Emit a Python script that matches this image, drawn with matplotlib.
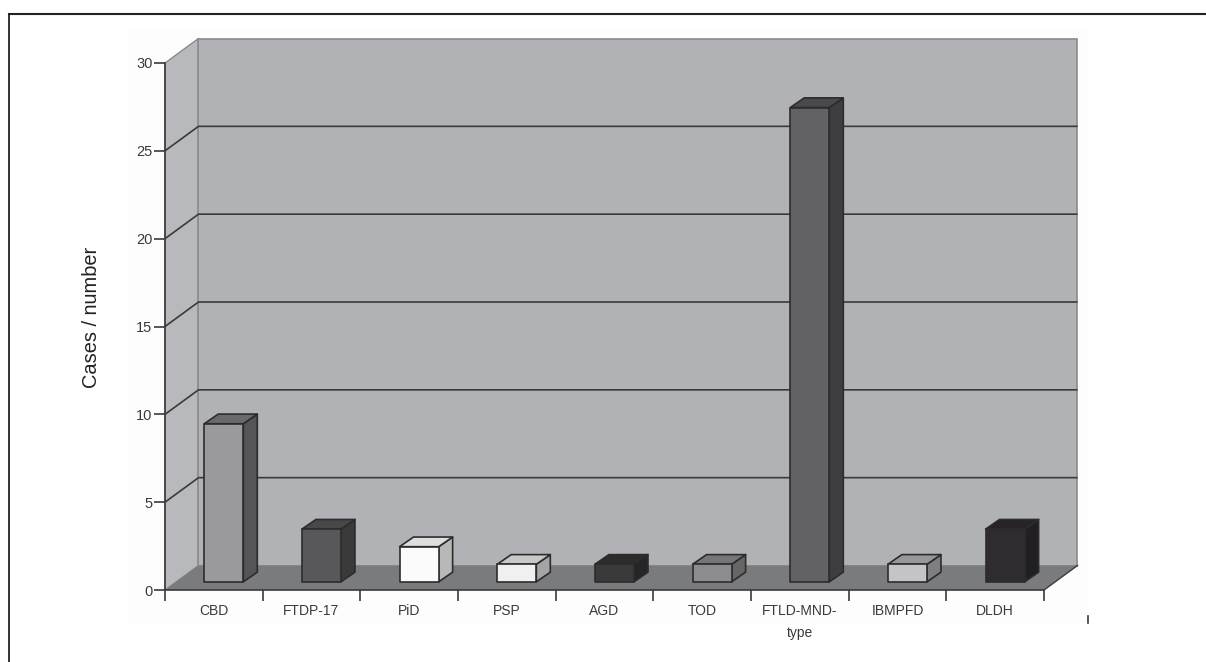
import matplotlib
matplotlib.use("Agg")
import matplotlib.pyplot as plt
from matplotlib.patches import Polygon, Rectangle
from matplotlib.lines import Line2D

categories = ["CBD", "FTDP-17", "PiD", "PSP", "AGD", "TOD", "FTLD-MND-\ntype", "IBMPFD", "DLDH"]
cases = [9, 3, 2, 1, 1, 1, 27, 1, 3]
front_colors = ["#9a9a9c", "#58585a", "#fbfbfb", "#f0f0f0", "#3a3a3a", "#8c8c8e", "#626264", "#c4c4c6", "#2e2c2e"]
side_colors = ["#555557", "#3a3a3a", "#b8b8b8", "#a4a4a4", "#262626", "#666666", "#3e3e40", "#7e7e80", "#211f21"]
top_colors = ["#6a6a6c", "#484848", "#dedede", "#c8c8c8", "#2c2c2c", "#767678", "#4a4a4c", "#98989a", "#262426"]
yticks = [0, 5, 10, 15, 20, 25, 30]

WIDTH, HEIGHT = 1206, 662
plt.rcParams["font.family"] = ["Liberation Sans", "DejaVu Sans"]

fig = plt.figure(figsize=(WIDTH / 100, HEIGHT / 100), dpi=100, facecolor="white")

# faint panel behind the chart
fig.add_artist(Rectangle((128 / WIDTH, 1 - 623 / HEIGHT), 960 / WIDTH, 595 / HEIGHT, transform=fig.transFigure, fc="#fdfdfd", ec="none", zorder=-1))

ax = fig.add_axes([165 / WIDTH, 1 - 590 / HEIGHT, 879 / WIDTH, 527 / HEIGHT])
ax.set_xlim(0, len(categories))
ax.set_ylim(0, 30)
ax.patch.set_visible(False)

# depth of the fake 3d box, in data units
dx = 33.5 / (879 / len(categories))
dy = 24.5 / (527 / 30)
n = len(categories)
ink = "#3a3a3c"
edge = "#2c2c2e"

ax.add_patch(Polygon([(0, 0), (dx, dy), (dx, 30 + dy), (0, 30)], fc="#b8b9bc", ec="#8a8a8c", lw=1, clip_on=False, zorder=1))
ax.add_patch(Polygon([(dx, dy), (n + dx, dy), (n + dx, 30 + dy), (dx, 30 + dy)], fc="#b1b2b5", ec="#8a8a8c", lw=1.2, clip_on=False, zorder=1))
ax.add_patch(Polygon([(0, 0), (n, 0), (n + dx, dy), (dx, dy)], fc="#7a7b7d", ec="none", clip_on=False, zorder=2))

# grid runs up the side wall then across the back wall
for v in yticks[1:-1]:
    ax.plot([0, dx, n + dx], [v, v + dy, v + dy], color="#3a3a3c", lw=1.2, clip_on=False, zorder=2, solid_capstyle="butt")
ax.plot([n, n + dx], [0, dy], color="#3a3a3c", lw=1, clip_on=False, zorder=3)

# bars sit a third of the way into the box
bar_w = 0.4
inset = 0.102
off_y = dy / 3
depth_x = 0.143
depth_y = 0.55
for i, v in enumerate(cases):
    x0 = i + 0.5 - bar_w / 2 + inset
    x1 = x0 + bar_w
    y0 = off_y
    y1 = off_y + v
    kw = dict(ec=edge, lw=1.2, clip_on=False, zorder=4, joinstyle="round")
    ax.add_patch(Polygon([(x1, y0), (x1 + depth_x, y0 + depth_y), (x1 + depth_x, y1 + depth_y), (x1, y1)], fc=side_colors[i], **kw))
    ax.add_patch(Polygon([(x0, y1), (x1, y1), (x1 + depth_x, y1 + depth_y), (x0 + depth_x, y1 + depth_y)], fc=top_colors[i], **kw))
    ax.add_patch(Rectangle((x0, y0), bar_w, v, fc=front_colors[i], **kw))

for name in ("top", "right"):
    ax.spines[name].set_visible(False)
for name in ("left", "bottom"):
    ax.spines[name].set_color(ink)
    ax.spines[name].set_linewidth(1.2)
    ax.spines[name].set_zorder(5)

ax.set_yticks(yticks)
ax.tick_params(axis="y", length=8, width=1.2, color=ink, labelcolor=ink, labelsize=10.5, pad=1)
ax.set_xticks(range(n + 1))
ax.set_xticklabels([])
ax.tick_params(axis="x", length=8, width=1.2, color=ink)
ax.set_xticks([i + 0.5 for i in range(n)], minor=True)
ax.set_xticklabels(categories, minor=True, fontsize=10, color=ink, linespacing=1.7)
ax.tick_params(axis="x", which="minor", length=0, pad=10)
ax.set_ylabel("Cases / number", fontsize=14.4, color="#222222", va="center")
ax.yaxis.set_label_coords((92 - 165) / 879, (590 - 317) / 527)

# page rule along the top and left, plus the small stray tick
fig.add_artist(Line2D([8.5 / WIDTH, 1], [1 - 13.5 / HEIGHT, 1 - 13.5 / HEIGHT], color="#222222", lw=1.5))
fig.add_artist(Line2D([8.5 / WIDTH, 8.5 / WIDTH], [1 - 13.5 / HEIGHT, 0], color="#222222", lw=1.3))
fig.add_artist(Line2D([1088 / WIDTH, 1088 / WIDTH], [1 - 616 / HEIGHT, 1 - 623 / HEIGHT], color=ink, lw=1.2))

fig.savefig("out.png", dpi=100)
